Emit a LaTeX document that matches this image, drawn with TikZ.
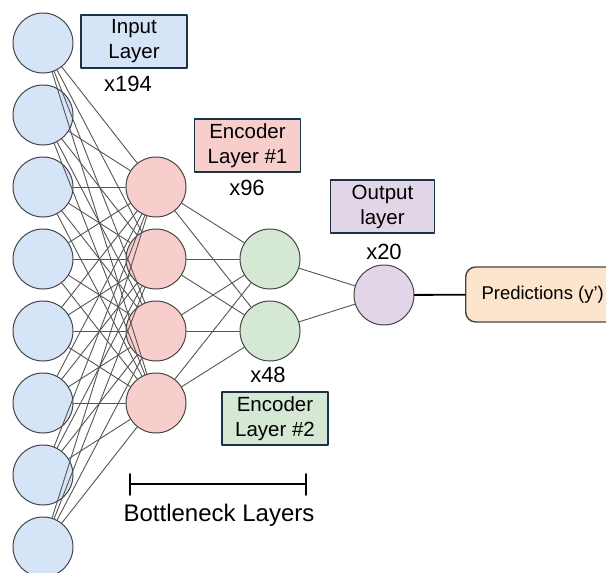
\documentclass[tikz,border=0pt]{standalone}
\usepackage{fontspec}
\setmainfont{Liberation Sans}
\definecolor{inblue}{HTML}{D6E4F7}
\definecolor{encpink}{HTML}{F8CECC}
\definecolor{encgreen}{HTML}{D5E8D4}
\definecolor{outpurple}{HTML}{E1D5E7}
\definecolor{predorange}{HTML}{FDE5CD}
\definecolor{ringgray}{HTML}{444444}
\definecolor{linkgray}{HTML}{555555}
\definecolor{tagborder}{HTML}{1B3444}
\begin{document}
\begin{tikzpicture}[x=1pt, y=-1pt, line join=round, line cap=round,
  neuron/.style={circle, draw=ringgray, line width=1pt, minimum size=60pt, inner sep=0pt},
  link/.style={draw=linkgray, line width=0.9pt},
  tag/.style={draw=tagborder, line width=1.8pt, align=center, inner sep=0pt,
    minimum width=106pt, minimum height=53pt, font=\fontsize{20.5}{25}\selectfont},
  count/.style={font=\fontsize{22}{26}\selectfont}]
	\useasboundingbox (0,0) rectangle (606,573);
	% neurons
	\foreach \i in {1,...,8}{
		\node[neuron, fill=inblue] (in\i) at (43,{43+72*(\i-1)}) {};}
	\foreach \i in {1,...,4}{
		\node[neuron, fill=encpink] (ea\i) at (156,{187+72*(\i-1)}) {};}
	\foreach \i in {1,2}{
		\node[neuron, fill=encgreen] (eb\i) at (270,{259+72*(\i-1)}) {};}
	\node[neuron, fill=outpurple] (out) at (384,295) {};
	\node[draw=ringgray, line width=1.4pt, fill=predorange, rounded corners=10pt,
		minimum width=160pt, minimum height=55pt, anchor=west,
		font=\fontsize{18.5}{22}\selectfont] (pred) at (465,294.5) {\hspace*{-6pt}Predictions (y')};
	% links
	\foreach \i in {1,...,8}{
		\foreach \j in {1,...,4}{
			\draw[link] (in\i) -- (ea\j);}}
	\foreach \i in {1,...,4}{
		\foreach \j in {1,2}{
			\draw[link] (ea\i) -- (eb\j);}}
	\foreach \i in {1,2}{
		\draw[link] (eb\i) -- (out);}
	\draw[line width=1.8pt] (out) -- (pred);
	% labels
	\node[tag, fill=inblue] (intag) at (134,41.5) {Input\\Layer};
	\node[count] (incount) at (128,84) {x194};
	\node[tag, fill=encpink] (eatag) at (247.5,145.5) {Encoder\\Layer \#1};
	\node[count] (eacount) at (247,188) {x96};
	\node[tag, fill=outpurple, minimum width=104pt] (outtag) at (382.5,206.5) {Output\\layer};
	\node[count] (outcount) at (384,252) {x20};
	\node[count] (ebcount) at (268,375) {x48};
	\node[tag, fill=encgreen] (ebtag) at (275,418.5) {Encoder\\Layer \#2};
	% bottleneck span
	\coordinate (bl) at (130,484);
	\coordinate (br) at (306,484);
	\draw[line width=1.8pt] (bl) -- (br) (130,474) -- (130,495) (306,474) -- (306,495);
	\node[font=\fontsize{24}{28}\selectfont] (bneck) at (219,515) {Bottleneck Layers};
\end{tikzpicture}
\end{document}
